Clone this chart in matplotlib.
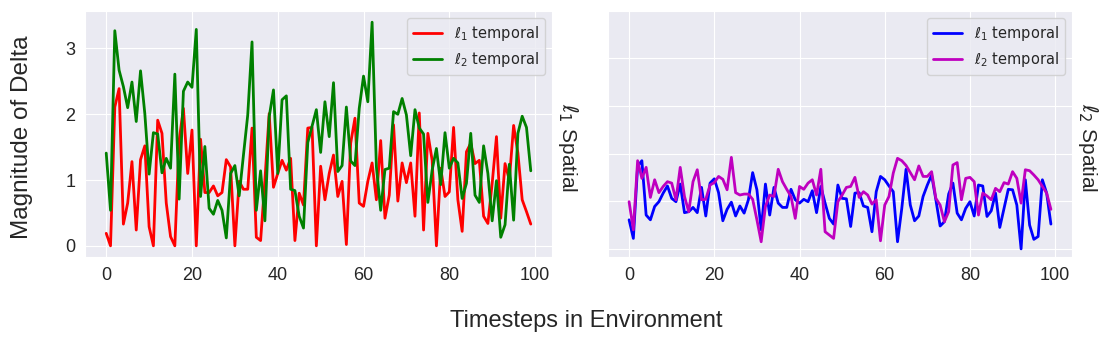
import matplotlib
matplotlib.use('Agg')
import matplotlib.pyplot as plt
import seaborn as sns
import numpy as np

sns.set_style('darkgrid')
plt.rcParams['font.family'] = ['Liberation Sans', 'DejaVu Sans']

# timesteps
steps = np.arange(100)

# l1 spatial panel
l1sp_l1_temporal = [0.19, 0.0, 2.11, 2.39, 0.33, 0.65, 1.28, 0.24, 1.31, 1.52,
                    0.29, 0.0, 1.91, 1.71, 0.65, 0.14, 0.0, 1.6, 2.09, 1.10,
                    1.76, 0.0, 1.62, 0.81, 0.81, 0.91, 0.76, 0.81, 1.31, 1.2,
                    0.0, 0.98, 0.86, 0.86, 1.79, 0.13, 0.08, 1.0, 2.01, 0.89,
                    1.1, 1.3, 1.15, 1.33, 0.08, 0.8, 0.62, 1.79, 1.8, 0.0,
                    1.21, 0.7, 1.1, 1.38, 0.75, 0.98, 0.02, 1.56, 1.94, 0.65,
                    0.6, 0.98, 1.26, 0.7, 1.6, 0.42, 0.77, 1.84, 0.68, 1.26,
                    0.96, 1.26, 0.45, 2.02, 0.24, 1.71, 1.3, 0.0, 1.18, 0.75,
                    0.82, 1.8, 0.7, 0.22, 1.43, 1.56, 1.25, 1.3, 0.45, 0.34,
                    0.95, 1.66, 0.42, 1.25, 1.0, 1.83, 1.41, 0.7, 0.52, 0.33]
l1sp_l2_temporal = [1.41, 0.54, 3.27, 2.67, 2.42, 2.1, 2.49, 1.89, 2.66, 2.01,
                    1.09, 1.72, 1.70, 1.11, 1.33, 1.18, 2.61, 0.71, 2.35, 2.49,
                    2.41, 3.29, 0.75, 1.51, 0.57, 0.48, 0.69, 0.54, 0.12, 1.1,
                    1.22, 0.76, 1.38, 1.99, 3.1, 0.54, 1.14, 0.38, 1.96, 2.37,
                    1.1, 2.22, 2.28, 0.86, 0.84, 0.45, 0.27, 1.57, 1.82, 2.07,
                    1.42, 2.19, 1.66, 2.48, 1.13, 1.22, 2.11, 1.29, 1.22, 2.09,
                    2.58, 2.19, 3.4, 1.2, 0.54, 1.16, 1.18, 2.04, 2.0, 2.24,
                    1.99, 1.37, 2.07, 1.79, 1.70, 0.66, 1.15, 1.48, 0.93, 1.72,
                    1.18, 1.33, 1.26, 0.72, 0.95, 1.71, 0.77, 0.66, 1.52, 1.1,
                    0.38, 0.99, 0.13, 0.32, 1.24, 0.39, 1.71, 1.97, 1.8, 1.14]

# l2 spatial panel
l2sp_l1_temporal = [0.61, 0.22, 1.73, 1.85, 0.71, 0.61, 0.89, 0.99, 1.17, 1.32,
                    1.06, 0.99, 1.36, 0.76, 0.78, 0.87, 0.76, 1.29, 0.69, 1.38,
                    1.47, 1.18, 0.59, 0.83, 0.98, 0.69, 0.9, 0.75, 1.03, 1.6,
                    1.24, 0.4, 1.36, 0.71, 1.29, 0.96, 0.87, 0.87, 1.25, 1.03,
                    0.96, 1.04, 0.99, 1.22, 0.76, 1.31, 0.96, 0.64, 0.52, 1.34,
                    1.06, 1.05, 0.47, 1.17, 1.18, 0.9, 0.87, 0.36, 1.2, 1.52,
                    1.45, 1.32, 1.2, 0.15, 0.85, 1.67, 0.92, 0.59, 0.69, 1.1,
                    1.34, 1.55, 1.03, 0.48, 0.57, 1.15, 1.38, 0.75, 0.61, 0.85,
                    0.99, 0.69, 1.34, 1.32, 0.68, 0.8, 1.17, 0.45, 0.85, 1.25,
                    1.24, 0.92, 0.0, 1.45, 0.5, 0.2, 0.26, 1.45, 1.17, 0.52]
l2sp_l2_temporal = [0.99, 0.4, 1.85, 1.48, 1.71, 1.08, 1.45, 1.18, 1.31, 1.41,
                    1.38, 1.03, 1.71, 1.1, 0.78, 1.41, 1.66, 1.03, 1.04, 1.34,
                    1.39, 1.52, 1.46, 1.24, 1.92, 1.18, 1.13, 1.15, 1.15, 1.04,
                    0.61, 0.15, 0.89, 1.13, 1.1, 1.67, 1.41, 1.25, 1.1, 0.64,
                    1.31, 1.25, 1.38, 1.45, 1.13, 1.67, 0.36, 0.29, 0.22, 0.99,
                    1.13, 1.29, 1.31, 1.5, 1.08, 1.2, 1.13, 0.94, 1.03, 0.17,
                    0.92, 1.1, 1.59, 1.9, 1.85, 1.75, 1.6, 1.45, 1.74, 1.52,
                    1.52, 1.62, 1.06, 0.92, 0.57, 0.78, 1.76, 1.81, 1.03, 1.48,
                    1.5, 1.41, 0.71, 1.17, 1.11, 1.03, 1.27, 1.2, 1.39, 1.36,
                    1.62, 1.48, 0.96, 1.66, 1.64, 1.55, 1.45, 1.31, 1.17, 0.83]

W, H = 1116, 349
fig = plt.figure(figsize=(W / 100, H / 100), dpi=100)
ax1 = fig.add_axes([85 / W, (H - 257) / H, 467 / W, 246 / H])
ax2 = fig.add_axes([608 / W, (H - 257) / H, 464 / W, 246 / H])

ax1.plot(steps, l1sp_l1_temporal, color='red', lw=2, label=r'$\ell_1$ temporal')
ax1.plot(steps, l1sp_l2_temporal, color='green', lw=2, label=r'$\ell_2$ temporal')
ax2.plot(steps, l2sp_l1_temporal, color='blue', lw=2, label=r'$\ell_1$ temporal')
ax2.plot(steps, l2sp_l2_temporal, color='m', lw=2, label=r'$\ell_2$ temporal')

for ax in (ax1, ax2):
    ax.set_xticks([0, 20, 40, 60, 80, 100])
    ax.tick_params(labelsize=13, colors='.15')
    ax.legend(loc='upper right', prop={'family': 'DejaVu Sans', 'size': 10.5})

ax1.set_yticks([0, 1, 2, 3])

ax2.set_ylim(-0.17, 4.99)
ax2.set_yticks([0, 1, 2, 3, 4])
ax2.set_yticklabels([])

fig.text(22 / W, 1 - 137 / H, 'Magnitude of Delta', rotation=90, fontsize=17.5,
         ha='center', va='center', color='.15')
fig.text(568 / W, 1 - 148 / H, r'$\ell_1$ Spatial', rotation=270, fontsize=15,
         ha='center', va='center', color='.15')
fig.text(1088 / W, 1 - 148 / H, r'$\ell_2$ Spatial', rotation=270, fontsize=15,
         ha='center', va='center', color='.15')
fig.text(586 / W, 1 - 321 / H, 'Timesteps in Environment',
         fontsize=17, ha='center', va='center', color='.15')

fig.savefig('out.png', dpi=100)
